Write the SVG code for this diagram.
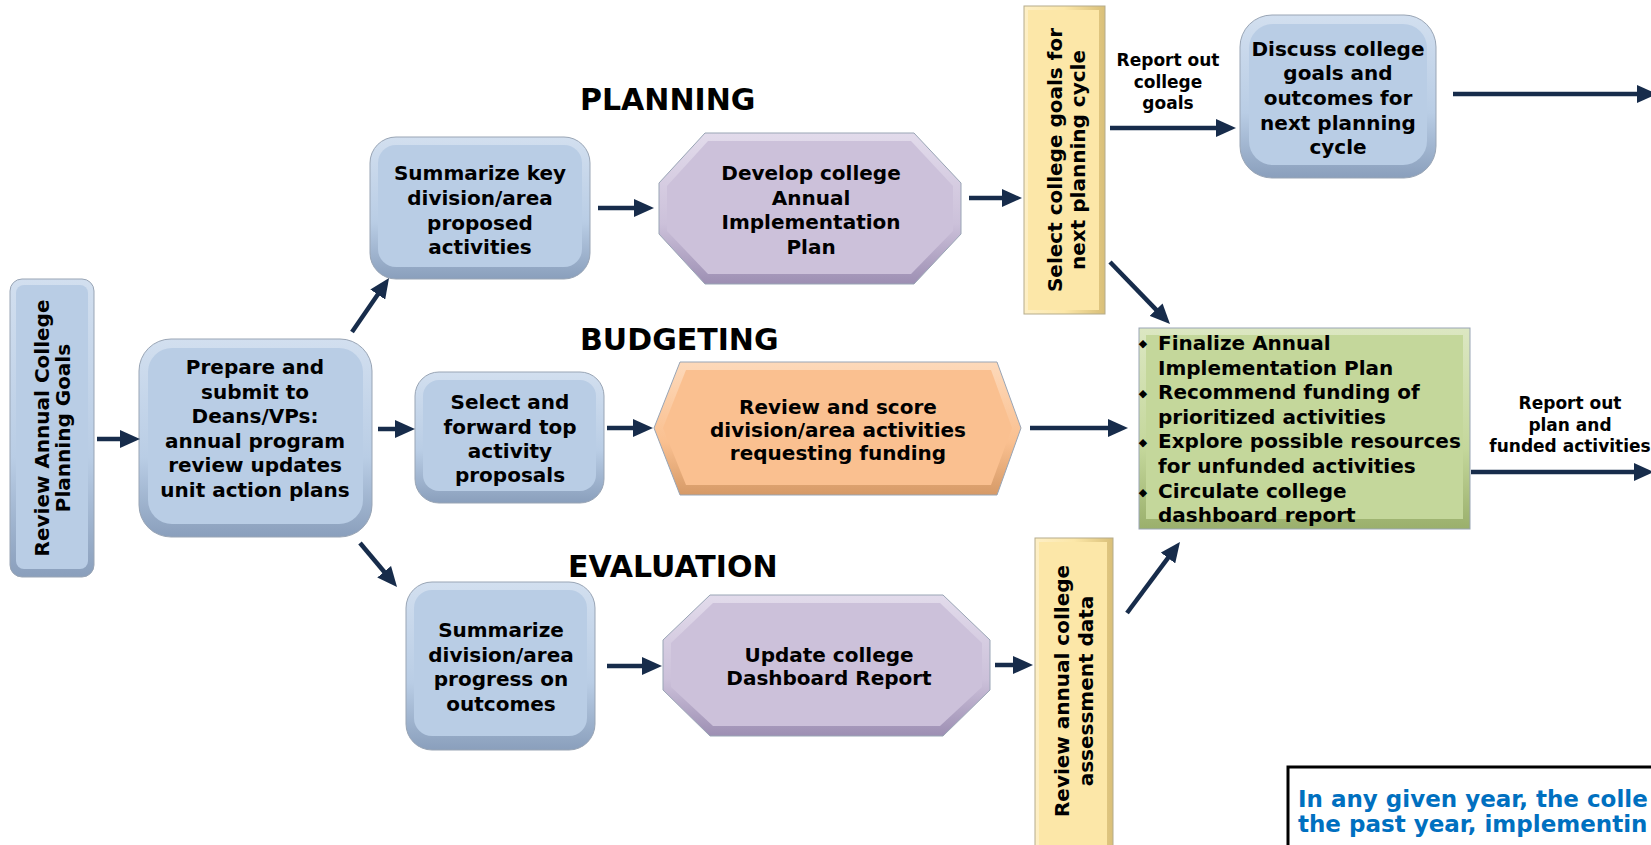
<svg xmlns="http://www.w3.org/2000/svg" width="1651" height="845" viewBox="0 0 1651 845">
<style>
.t{font-family:"DejaVu Sans",Verdana,sans-serif;font-weight:bold;font-size:20px;fill:#000;text-anchor:middle}
.lbl{font-family:"DejaVu Sans",Verdana,sans-serif;font-weight:bold;font-size:17px;fill:#000;text-anchor:middle}
.hd{font-family:"DejaVu Sans",Verdana,sans-serif;font-weight:bold;font-size:30px;fill:#000}
.bl{font-family:"DejaVu Sans",Verdana,sans-serif;font-weight:bold;font-size:20px;fill:#000}
.bul{font-family:"DejaVu Sans",sans-serif;font-size:11px;fill:#000;text-anchor:middle}
.note{font-family:"DejaVu Sans",Verdana,sans-serif;font-weight:bold;font-size:23px;fill:#0070C0}
.conn line{stroke:#172C4B;stroke-width:4.5;marker-end:url(#ah)}
.edge{stroke:#99A5B5;stroke-width:1}
.blueF{fill:#B9CDE5}
.purF{fill:#CCC1DA}
.orgF{fill:#FAC090}
.grnF{fill:#C4D79B}
.yelF{fill:#FCE7A8}
</style>
<defs>
<marker id="ah" viewBox="0 0 20 18" markerWidth="20" markerHeight="18" refX="1" refY="9" orient="auto" markerUnits="userSpaceOnUse">
<path d="M0,0 L20,9 L0,18 z" fill="#172C4B"/>
</marker>
<linearGradient id="gBlue" x1="0" y1="0" x2="0" y2="1">
<stop offset="0" stop-color="#D2DFEF"/><stop offset="0.6" stop-color="#B9CDE5"/><stop offset="1" stop-color="#8A9FBC"/>
</linearGradient>
<linearGradient id="gPur" x1="0" y1="0" x2="0" y2="1">
<stop offset="0" stop-color="#E2DBEB"/><stop offset="0.6" stop-color="#CCC1DA"/><stop offset="1" stop-color="#9D8FB3"/>
</linearGradient>
<linearGradient id="gOrg" x1="0" y1="0" x2="0" y2="1">
<stop offset="0" stop-color="#FDD9BA"/><stop offset="0.6" stop-color="#FAC090"/><stop offset="1" stop-color="#D69A67"/>
</linearGradient>
<linearGradient id="gGrn" x1="0" y1="0" x2="0" y2="1">
<stop offset="0" stop-color="#DCE7C2"/><stop offset="0.6" stop-color="#C4D79B"/><stop offset="1" stop-color="#9AAF6C"/>
</linearGradient>
<linearGradient id="gYel" x1="0" y1="0" x2="1" y2="0">
<stop offset="0" stop-color="#FDEFC6"/><stop offset="0.5" stop-color="#FCE7A8"/><stop offset="1" stop-color="#D9BF78"/>
</linearGradient>
</defs>

<rect width="1651" height="845" fill="#FFFFFF"/>

<g id="headings">
<text class="hd" x="580" y="110">PLANNING</text>
<text class="hd" x="580" y="350">BUDGETING</text>
<text class="hd" x="568" y="577">EVALUATION</text>
</g>

<g id="n-review-goals">
<rect x="10" y="279" width="84" height="298" rx="12" fill="url(#gBlue)" class="edge"/>
<rect x="16" y="285" width="72" height="284" rx="8" class="blueF"/>
<text class="t" transform="translate(52,428) rotate(-90)"><tspan x="0" y="-3.5">Review Annual College</tspan><tspan x="0" y="18">Planning Goals</tspan></text>
</g>

<g id="n-prepare">
<rect x="139" y="339" width="233" height="198" rx="32" fill="url(#gBlue)" class="edge"/>
<rect x="148" y="348" width="215" height="176" rx="24" class="blueF"/>
<text class="t"><tspan x="255" y="374">Prepare and</tspan><tspan x="255" y="398.5">submit to</tspan><tspan x="255" y="423">Deans/VPs:</tspan><tspan x="255" y="447.5">annual program</tspan><tspan x="255" y="472">review updates</tspan><tspan x="255" y="496.5">unit action plans</tspan></text>
</g>

<g id="n-summarize-key">
<rect x="370" y="137" width="220" height="142" rx="26" fill="url(#gBlue)" class="edge"/>
<rect x="378" y="145" width="204" height="122" rx="18" class="blueF"/>
<text class="t"><tspan x="480" y="180">Summarize key</tspan><tspan x="480" y="205">division/area</tspan><tspan x="480" y="230">proposed</tspan><tspan x="480" y="254">activities</tspan></text>
</g>

<g id="n-select-forward">
<rect x="415" y="372" width="189" height="131" rx="24" fill="url(#gBlue)" class="edge"/>
<rect x="423" y="380" width="173" height="111" rx="16" class="blueF"/>
<text class="t"><tspan x="510" y="409">Select and</tspan><tspan x="510" y="434">forward top</tspan><tspan x="510" y="458">activity</tspan><tspan x="510" y="482">proposals</tspan></text>
</g>

<g id="n-summarize-div">
<rect x="406" y="582" width="189" height="168" rx="26" fill="url(#gBlue)" class="edge"/>
<rect x="414" y="590" width="173" height="146" rx="18" class="blueF"/>
<text class="t"><tspan x="501" y="637">Summarize</tspan><tspan x="501" y="662">division/area</tspan><tspan x="501" y="686">progress on</tspan><tspan x="501" y="711">outcomes</tspan></text>
</g>

<g id="n-develop">
<polygon points="705,133 914,133 961,183 961,234 914,284 705,284 659,234 659,183" fill="url(#gPur)" class="edge"/>
<polygon points="708,141 911,141 953,186 953,231 911,274 708,274 667,231 667,186" class="purF"/>
<text class="t"><tspan x="811" y="180">Develop college</tspan><tspan x="811" y="205">Annual</tspan><tspan x="811" y="229">Implementation</tspan><tspan x="811" y="254">Plan</tspan></text>
</g>

<g id="n-review-score">
<polygon points="680,362 997,362 1021,428 997,495 680,495 654,428" fill="url(#gOrg)" class="edge"/>
<polygon points="686,370 991,370 1012,428 991,485 686,485 663,428" class="orgF"/>
<text class="t"><tspan x="838" y="414">Review and score</tspan><tspan x="838" y="437">division/area activities</tspan><tspan x="838" y="460">requesting funding</tspan></text>
</g>

<g id="n-update">
<polygon points="710,595 943,595 990,640 990,690 943,736 710,736 663,690 663,640" fill="url(#gPur)" class="edge"/>
<polygon points="713,603 940,603 982,643 982,687 940,726 713,726 671,687 671,643" class="purF"/>
<text class="t"><tspan x="829" y="662">Update college</tspan><tspan x="829" y="685">Dashboard Report</tspan></text>
</g>

<g id="n-select-goals">
<rect x="1024" y="6" width="81" height="308" fill="url(#gYel)" stroke="#B5AC8C" stroke-width="1"/>
<rect x="1028" y="10" width="71" height="300" class="yelF"/>
<text class="t" transform="translate(1064,160) rotate(-90)"><tspan x="0" y="-2">Select college goals for</tspan><tspan x="0" y="21">next planning cycle</tspan></text>
</g>

<g id="n-review-annual">
<rect x="1035" y="538" width="78" height="330" fill="url(#gYel)" stroke="#B5AC8C" stroke-width="1"/>
<rect x="1039" y="542" width="68" height="320" class="yelF"/>
<text class="t" transform="translate(1074,691) rotate(-90)"><tspan x="0" y="-5">Review annual college</tspan><tspan x="0" y="19">assessment data</tspan></text>
</g>

<g id="n-discuss">
<rect x="1240" y="15" width="196" height="163" rx="32" fill="url(#gBlue)" class="edge"/>
<rect x="1249" y="24" width="178" height="141" rx="24" class="blueF"/>
<text class="t"><tspan x="1338" y="56">Discuss college</tspan><tspan x="1338" y="80">goals and</tspan><tspan x="1338" y="105">outcomes for</tspan><tspan x="1338" y="130">next planning</tspan><tspan x="1338" y="154">cycle</tspan></text>
</g>

<g id="n-finalize">
<rect x="1139" y="328" width="331" height="201" fill="url(#gGrn)" class="edge"/>
<rect x="1146" y="335" width="317" height="184" class="grnF"/>
<text class="bul"><tspan x="1143" y="347">◆</tspan><tspan x="1143" y="396.5">◆</tspan><tspan x="1143" y="446">◆</tspan><tspan x="1143" y="495.5">◆</tspan></text>
<text class="bl"><tspan x="1158" y="350">Finalize Annual</tspan><tspan x="1158" y="374.6">Implementation Plan</tspan><tspan x="1158" y="399.2">Recommend funding of</tspan><tspan x="1158" y="423.8">prioritized activities</tspan><tspan x="1158" y="448.4">Explore possible resources</tspan><tspan x="1158" y="473">for unfunded activities</tspan><tspan x="1158" y="497.6">Circulate college</tspan><tspan x="1158" y="522.2">dashboard report</tspan></text>
</g>

<g id="n-note">
<rect x="1288" y="767" width="420" height="120" fill="#FFFFFF" stroke="#000" stroke-width="3"/>
<text class="note"><tspan x="1298" y="807">In any given year, the colle</tspan><tspan x="1298" y="832">the past year, implementin</tspan></text>
</g>

<g id="connectors" class="conn">
<line x1="97" y1="439" x2="121" y2="439"/>
<line x1="352" y1="332" x2="378.3" y2="293.7"/>
<line x1="378" y1="429" x2="396" y2="429"/>
<line x1="360" y1="543" x2="384.8" y2="572.5"/>
<line x1="598" y1="208" x2="635" y2="208"/>
<line x1="969" y1="198" x2="1003" y2="198"/>
<line x1="607" y1="428" x2="634" y2="428"/>
<line x1="607" y1="666" x2="643" y2="666"/>
<line x1="995" y1="665" x2="1014" y2="665"/>
<line x1="1110" y1="128" x2="1217" y2="128"/>
<line x1="1110" y1="262" x2="1156.8" y2="310.4"/>
<line x1="1030" y1="428" x2="1109" y2="428"/>
<line x1="1127" y1="613" x2="1168.6" y2="557.2"/>
<line x1="1453" y1="94" x2="1638" y2="94"/>
<line x1="1471" y1="472" x2="1635" y2="472"/>
</g>

<g id="labels">
<text class="lbl"><tspan x="1168" y="66">Report out</tspan><tspan x="1168" y="88">college</tspan><tspan x="1168" y="109">goals</tspan></text>
<text class="lbl"><tspan x="1570" y="409">Report out</tspan><tspan x="1570" y="431">plan and</tspan><tspan x="1570" y="452">funded activities</tspan></text>
</g>
</svg>
